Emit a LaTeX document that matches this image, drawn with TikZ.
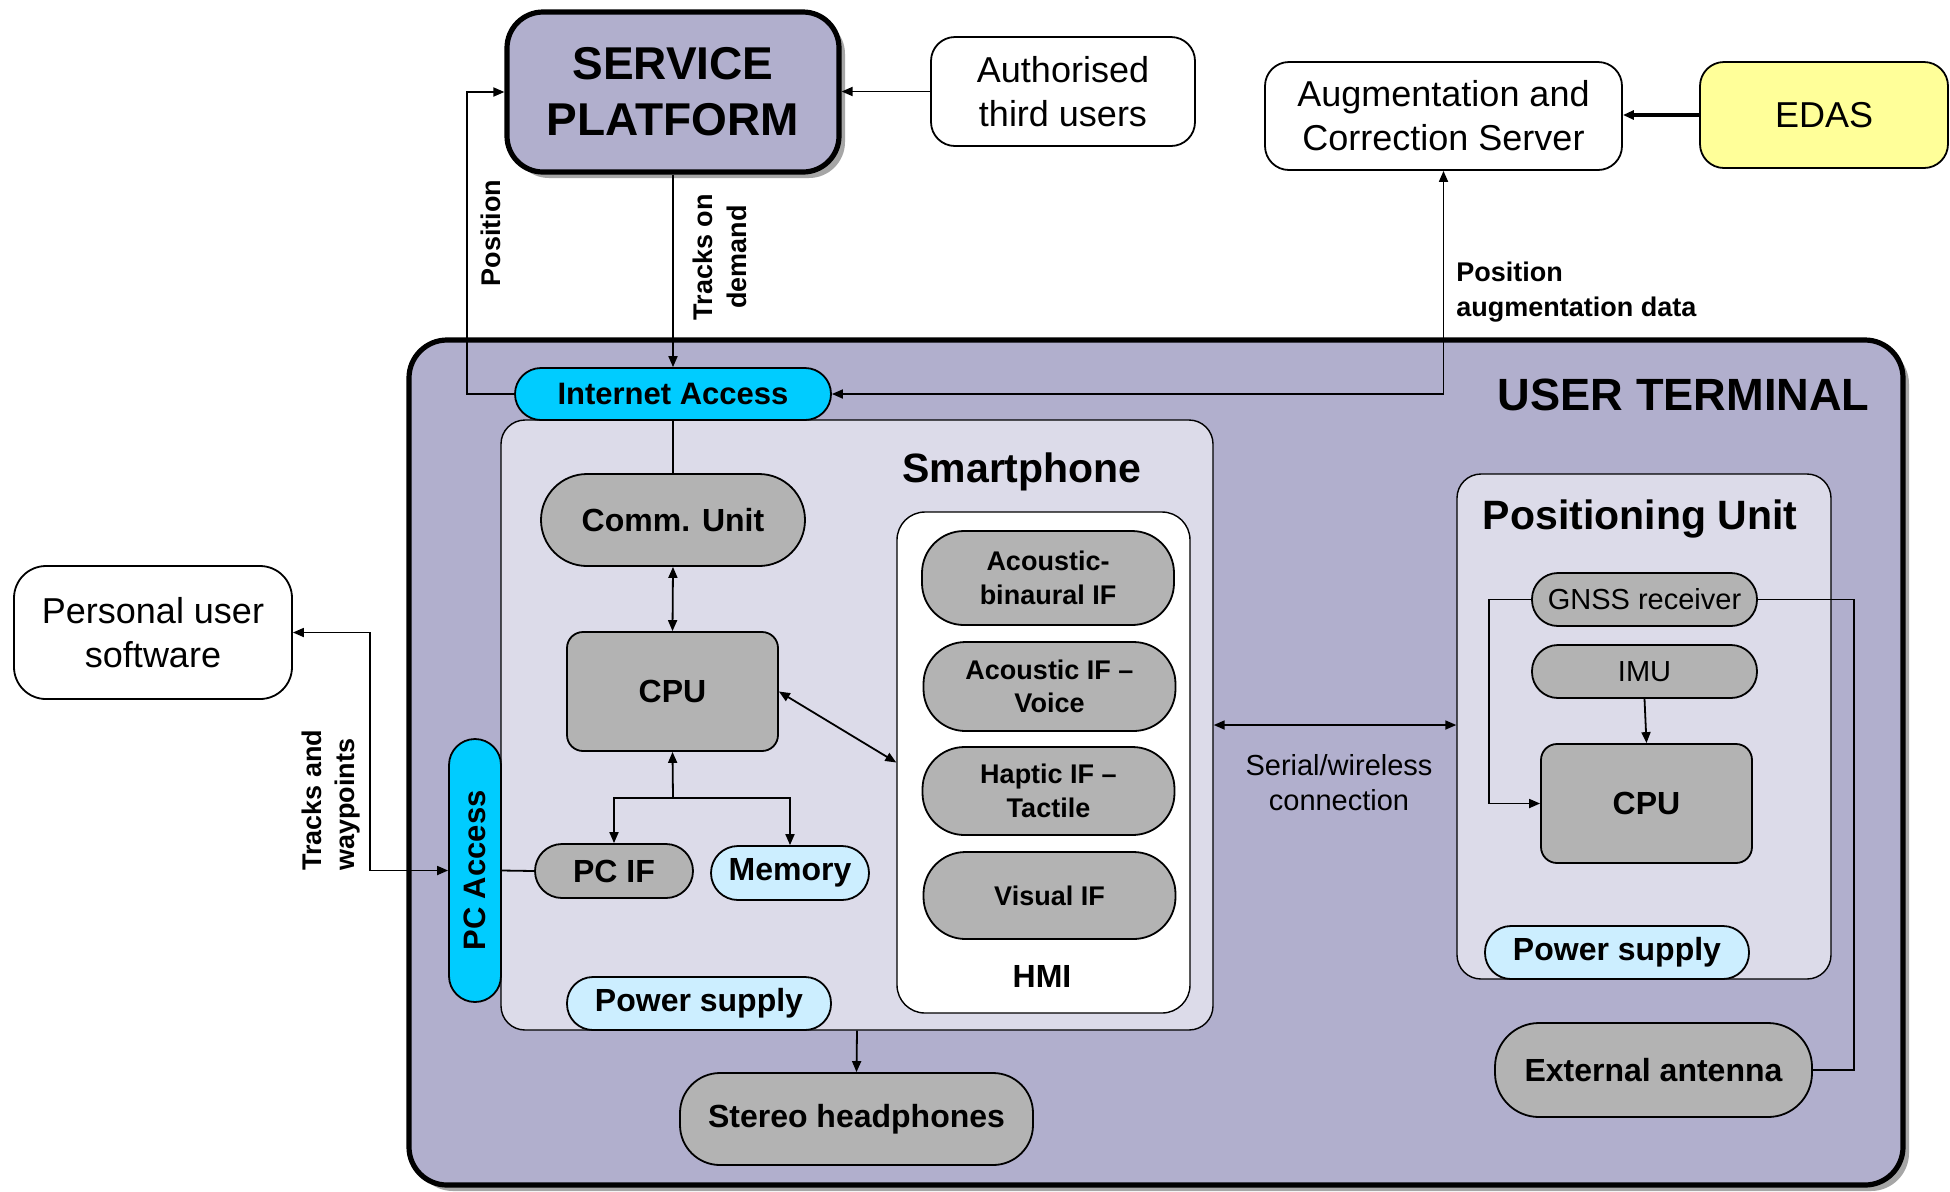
\documentclass[tikz,border=0pt]{standalone}
\usepackage{fontspec}
\setmainfont{Liberation Sans}
\usetikzlibrary{arrows.meta,shadows}
\definecolor{lav}{HTML}{B1AFCD}
\definecolor{lavlight}{HTML}{DCDBE9}
\definecolor{gbox}{HTML}{B3B3B3}
\definecolor{cyanbox}{HTML}{00CCFF}
\definecolor{lblue}{HTML}{CCEEFF}
\definecolor{ylw}{HTML}{FFFF99}
\newcommand{\fs}[2]{\fontsize{#1}{#2}\selectfont}
\begin{document}
\begin{tikzpicture}[x=0.5pt,y=-0.5pt,
  base/.style={draw=black, line width=0.9pt, align=center, inner sep=0pt, text=black},
  graypill/.style={base, fill=gbox, font=\fs{16}{19}\bfseries},
  hmiitem/.style={base, fill=gbox, font=\fs{13.5}{16.8}\bfseries, minimum width=126pt, rounded corners=21pt},
  whitebox/.style={base, fill=white, font=\fs{18}{22}},
  container/.style={base, fill=lavlight, line width=0.7pt},
  conn/.style={line width=0.9pt},
  arr/.style={conn, -{Triangle[length=5.5pt,width=4.5pt]}},
  darr/.style={conn, {Triangle[length=5.5pt,width=4.5pt]}-{Triangle[length=5.5pt,width=4.5pt]}},
  lbl/.style={font=\fs{13.5}{16.8}\bfseries, inner sep=0pt, align=center},
  title/.style={font=\fs{20.5}{24}\bfseries, inner sep=0pt},
  shadowed/.style={drop shadow={shadow xshift=3pt, shadow yshift=-3pt, fill=black!35, opacity=1}}
]
\fill[white] (0,0) rectangle (1950,1191);
\useasboundingbox (0,0) rectangle (1950,1191);

% outer boxes
\node[base, fill=lav, line width=2.6pt, rounded corners=19pt, minimum width=747pt, minimum height=422.5pt, shadowed] (ut) at (1156,762.5) {};
\node[font=\fs{22.6}{26}\bfseries, inner sep=0pt, anchor=east] (uttitle) at (1870,395) {USER TERMINAL};

\node[base, fill=lav, line width=2.6pt, rounded corners=18pt, minimum width=166pt, minimum height=80pt, font=\fs{23}{28}\bfseries, shadowed] (sp) at (673,92) {SERVICE\\PLATFORM};
\node[whitebox, rounded corners=12pt, minimum width=132pt, minimum height=54.5pt] (auth) at (1063,91.5) {Authorised\\third users};
\node[whitebox, rounded corners=12pt, minimum width=178.5pt, minimum height=54pt] (acs) at (1443.5,116) {Augmentation and\\Correction Server};
\node[whitebox, fill=ylw, rounded corners=12pt, minimum width=124pt, minimum height=53pt] (edas) at (1824,115) {EDAS};
\node[whitebox, rounded corners=16pt, minimum width=139pt, minimum height=66.5pt] (pus) at (153,632.5) {Personal user\\software};

% smartphone
\node[container, rounded corners=12pt, minimum width=356pt, minimum height=305pt] (smart) at (857,725) {};
\node[title] (smarttitle) at (1022,472) {Smartphone};
\node[base, fill=cyanbox, rounded corners=13pt, minimum width=158pt, minimum height=26pt, font=\fs{15.5}{18}\bfseries] (ia) at (673,394) {Internet Access};
\node[graypill, rounded corners=23pt, minimum width=132pt, minimum height=46pt] (comm) at (673,520) {Comm. Unit};
\node[graypill, rounded corners=8pt, minimum width=105.5pt, minimum height=59.5pt] (cpu1) at (672.5,691.5) {CPU};
\node[graypill, rounded corners=13.5pt, minimum width=79pt, minimum height=27pt] (pcif) at (614,871) {PC IF};
\node[graypill, fill=lblue, rounded corners=13.5pt, minimum width=79pt, minimum height=27pt] (mem) at (790,873) {Memory};
\node[base, fill=cyanbox, rounded corners=13pt, minimum width=26pt, minimum height=131.5pt, font=\fs{15.5}{18}\bfseries] (pca) at (475,870.5) {\rotatebox{90}{PC Access}};
\node[graypill, fill=lblue, rounded corners=13pt, minimum width=132pt, minimum height=26.5pt] (ps1) at (699,1003.5) {Power supply};

% HMI
\node[base, fill=white, line width=0.7pt, rounded corners=14pt, minimum width=146.5pt, minimum height=250.5pt] (hmi) at (1043.5,762.5) {};
\node[hmiitem, minimum height=47pt] (h1) at (1048,578) {Acoustic-\\binaural IF};
\node[hmiitem, minimum height=44.5pt] (h2) at (1049.5,686.5) {Acoustic IF --\\Voice};
\node[hmiitem, minimum height=44pt] (h3) at (1048.5,791) {Haptic IF --\\Tactile};
\node[hmiitem, minimum height=43.5pt] (h4) at (1049.5,895.5) {Visual IF};
\node[font=\fs{16}{19}\bfseries, inner sep=0pt] (hmilbl) at (1042,976) {HMI};

\node[graypill, rounded corners=20pt, minimum width=176.5pt, minimum height=46pt] (sh) at (856.5,1119) {Stereo headphones};

% positioning unit
\node[container, rounded corners=12pt, minimum width=187pt, minimum height=252.5pt] (pu) at (1644,726.5) {};
\node[title] (putitle) at (1640,519) {Positioning Unit};
\node[base, fill=gbox, rounded corners=13pt, minimum width=112.5pt, minimum height=26.5pt, font=\fs{14.5}{17}] (gnss) at (1644.5,599.5) {GNSS receiver};
\node[base, fill=gbox, rounded corners=13pt, minimum width=112.5pt, minimum height=26.5pt, font=\fs{14.5}{17}] (imu) at (1644.5,671.5) {IMU};
\node[graypill, rounded corners=8pt, minimum width=105.5pt, minimum height=59.5pt] (cpu2) at (1646.5,803.5) {CPU};
\node[graypill, fill=lblue, rounded corners=13pt, minimum width=132pt, minimum height=26.5pt] (ps2) at (1617,952.5) {Power supply};
\node[graypill, rounded corners=22pt, minimum width=158.5pt, minimum height=47pt] (ext) at (1653.5,1070) {External antenna};

% connectors
\draw[arr] (auth.west) -- (auth.west -| sp.east);
\draw[arr, line width=2pt] (edas.west) -- (edas.west -| acs.east);
\draw[arr] (ia.west) -- ++(-47,0) |- (sp.west);
\node[lbl, rotate=90] (poslbl) at (491,233) {Position};
\draw[arr] (sp.south) -- (ia.north);
\node[lbl, rotate=90] (tracklbl) at (720,257) {Tracks on\\demand};
\draw[darr] (ia.east) -| (acs.south);
\node[lbl, align=left, anchor=north west, font=\fs{13.5}{17.4}\bfseries] (auglbl) at (1456,262) {Position\\augmentation data};
\draw[conn] (ia.south) -- (comm.north);
\draw[darr] (comm.south) -- (cpu1.north);
\draw[darr] (cpu1.east) -- (hmi.west);
\coordinate (split) at (673,798);
\draw[arr] (split) -- (cpu1.south);
\draw[arr] (split) -| (pcif.north);
\draw[arr] (split) -| (mem.north);
\draw[conn] (pca.east) -- (pcif.west);
\draw[darr] (pus.east) -- ++(77,0) |- (pca.west);
\node[lbl, rotate=90, anchor=west, align=left] (twlbl) at (331,871) {Tracks and\\waypoints};
\draw[arr] (smart.south) -- (sh.north);
\draw[darr] (smart.east) -- (smart.east -| pu.west);
\node[font=\fs{14.5}{17.4}, align=center, inner sep=0pt] (serlbl) at (1339,783) {Serial/wireless\\connection};
\draw[arr] (imu.south) -- (cpu2.north);
\draw[arr] (gnss.west) -- ++(-42,0) |- (cpu2.west);
\draw[conn] (gnss.east) -- ++(96,0) |- (ext.east);
\end{tikzpicture}
\end{document}
